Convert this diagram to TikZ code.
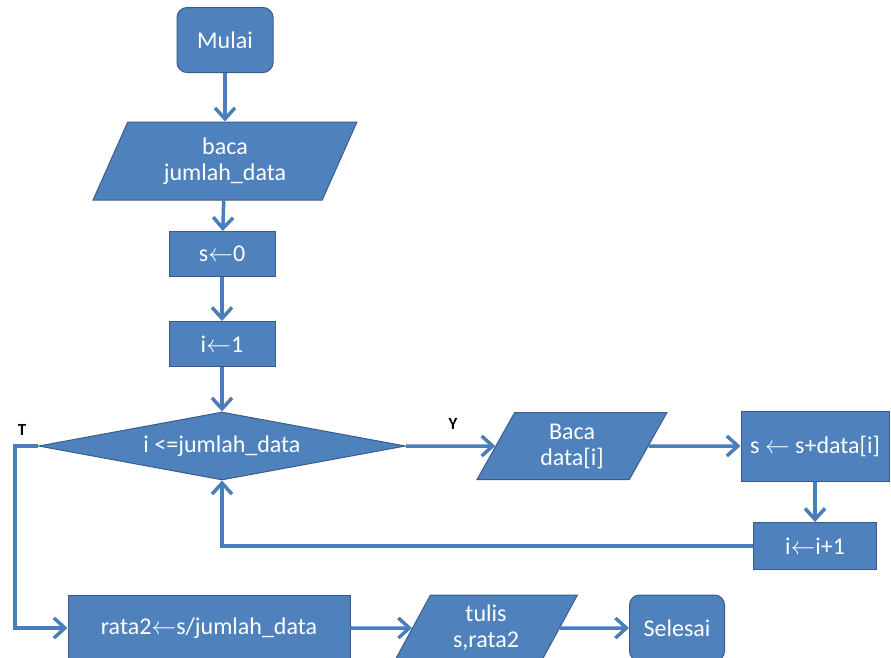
\documentclass[tikz,border=0pt]{standalone}
\usepackage{fontspec}
\setmainfont{Carlito}
\usetikzlibrary{positioning, shapes.geometric, arrows.meta}
\definecolor{isi}{RGB}{79,129,189}
\definecolor{tepi}{RGB}{56,93,138}
\definecolor{panah}{RGB}{74,126,187}
\tikzset{blok/.style = {rectangle, draw=tepi, fill=isi, text=white, line width=1pt,
                        inner sep=0pt, align=center, font=\fontsize{24}{26}\selectfont},
         terminal/.style = {blok, rounded corners=10pt},
         io/.style = {blok, trapezium, trapezium left angle=65, trapezium right angle=115,
                      trapezium stretches=true},
         cabang/.style = {blok, diamond, aspect=5.4},
         alur/.style = {draw=panah, line width=3.5pt, -{Straight Barb[length=11pt,width=20pt]}},
         tanda/.style = {font=\bfseries\fontsize{17}{19}\selectfont}}

\begin{document}
\begin{tikzpicture}[x=1pt, y=-1pt]
            \useasboundingbox (0,0) rectangle (891,657);

            \node[terminal, minimum width=96pt, minimum height=65pt] (mulai) at (225,40) {Mulai};
            \node[io, minimum width=264pt, minimum height=78pt] (baca) at (225,161) {baca\\jumlah\_data};
            \node[blok, minimum width=106pt, minimum height=45pt] (s0) at (222,254) {s$\leftarrow$0};
            \node[blok, minimum width=106pt, minimum height=45pt] (i1) at (222,344) {i$\leftarrow$1};
            \node[cabang, minimum width=367pt, minimum height=68pt] (cek) at (222,446) {i <=jumlah\_data};

            \node[io, minimum width=190pt, minimum height=67pt] (bacadata) at (572,446) {Baca\\data[i]};
            \node[blok, minimum width=148pt, minimum height=70pt] (tambah) at (815,446) {s $\leftarrow$ s+data[i]};
            \node[blok, minimum width=123pt, minimum height=47pt] (naik) at (815,546) {i$\leftarrow$i+1};

            \node[blok, minimum width=282pt, minimum height=66pt] (rata) at (209,628) {rata2$\leftarrow$s/jumlah\_data};
            \node[io, minimum width=183pt, minimum height=66pt] (tulis) at (486,628) {tulis\\s,rata2};
            \node[terminal, minimum width=95pt, minimum height=66pt] (selesai) at (677,628) {Selesai};

            \node[tanda] (t) at (22,430) {T};
            \node[tanda] (y) at (453,424) {Y};
            \coordinate (kiri) at (15,446);

            \draw[alur] (mulai) -- (baca);
            \draw[alur] (baca) -- (s0);
            \draw[alur] (s0) -- (i1);
            \draw[alur] (i1) -- (cek);
            \draw[alur] (cek.east) -- (bacadata.west);
            \draw[alur] (bacadata.east) -- (tambah.west);
            \draw[alur] (tambah) -- (naik);
            \draw[alur] (naik.west) -| (cek.south);
            \draw[alur] (cek.west) -- (kiri) |- (rata.west);
            \draw[alur] (rata.east) -- (tulis.west);
            \draw[alur] (tulis.east) -- (selesai.west);
        \end{tikzpicture}
\end{document}
